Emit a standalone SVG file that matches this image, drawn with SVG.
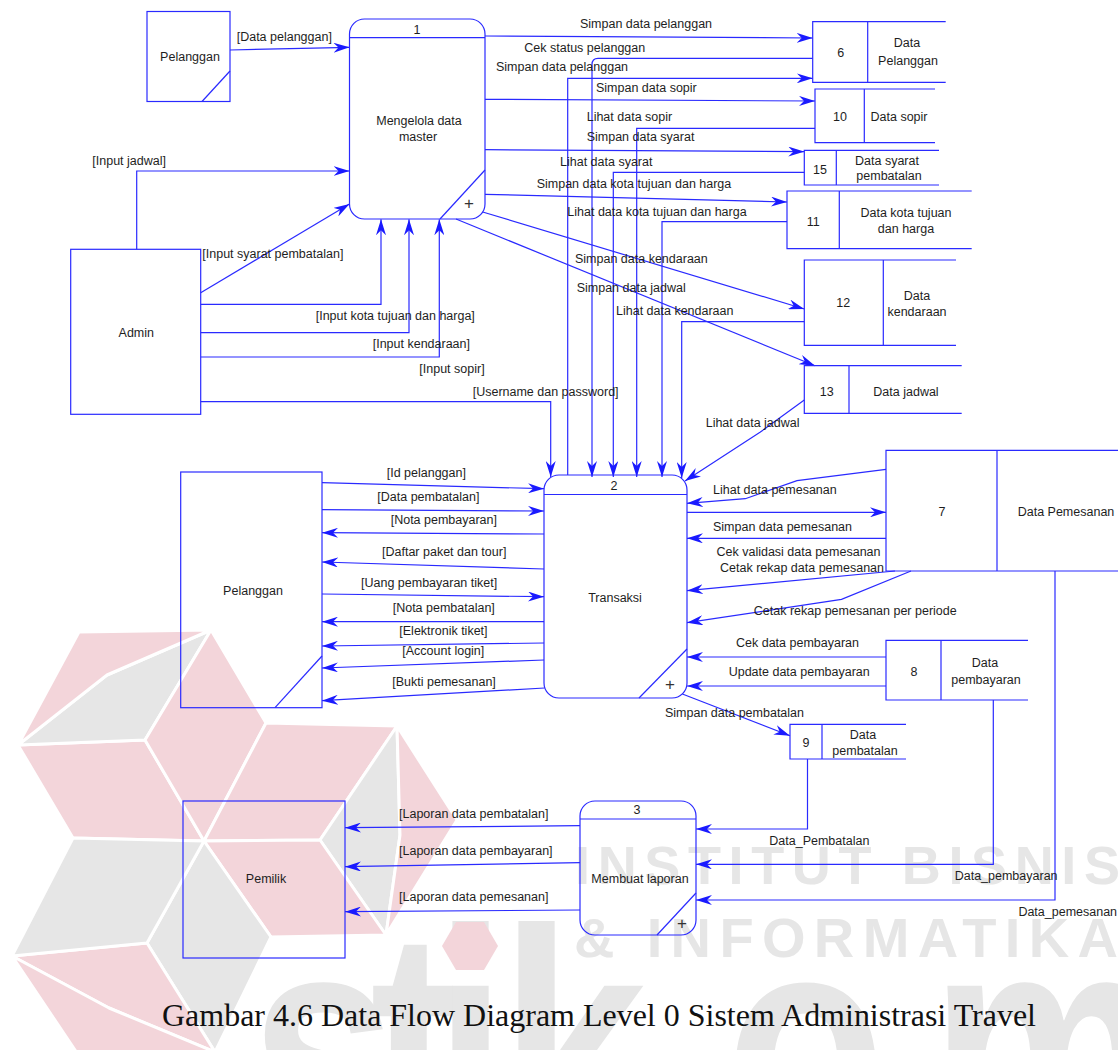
<svg xmlns="http://www.w3.org/2000/svg" width="1118" height="1050" viewBox="0 0 1118 1050">
  <defs>
    <marker id="ah" viewBox="0 0 16 10" refX="16" refY="5" markerWidth="16" markerHeight="10" orient="auto" markerUnits="userSpaceOnUse">
      <path d="M0,0 L16,5 L0,10 L5,5 Z" fill="#1a1aff"/>
    </marker>
    <style>
      .ln { fill: none; stroke: #2a2aff; stroke-width: 1.2; }
      .ar { marker-end: url(#ah); }
      .bx { fill: none; stroke: #2a2aff; stroke-width: 1.2; }
      .t { font-family: "Liberation Sans", Arial, sans-serif; font-size: 12.5px; fill: #1e1e1e; }
      .c { text-anchor: middle; }
      .plus { font-family: "Liberation Sans", Arial, sans-serif; font-size: 17px; fill: #333; text-anchor: middle; }
      .pk { fill: #f3d5da; stroke: #fff; stroke-width: 3; stroke-linejoin: round; }
      .gy { fill: #e6e6e6; stroke: #fff; stroke-width: 3; stroke-linejoin: round; }
      .wm { font-family: "Liberation Sans", Arial, sans-serif; font-weight: bold; fill: #e6e6e6; }
      .cap { font-family: "Liberation Serif", "Times New Roman", serif; font-size: 31px; fill: #111; }
    </style>
  </defs>

  <rect width="1118" height="1050" fill="#fff"/>

  <!-- background watermark: star emblem and wordmark -->
  <g id="watermark">
    <polygon class="pk" points="204,841 73,838 18,745 145,740"/>
    <polygon class="gy" points="18,745 107,675 211,630 145,740"/>
    <polygon class="pk" points="18,745 79,632 211,630 107,675"/>
    <polygon class="pk" points="211,630 266,723 204,841 145,740"/>
    <polygon class="pk" points="204,841 266,723 397,726 320,840"/>
    <polygon class="gy" points="397,726 400,835 386,935 320,840"/>
    <polygon class="pk" points="397,726 457,820 386,935 400,835"/>
    <polygon class="pk" points="386,935 271,937 204,841 320,840"/>
    <polygon class="gy" points="204,841 271,937 215,1052 147,943"/>
    <polygon class="pk" points="215,1052 109,1008 12,956 147,943"/>
    <polygon class="pk" points="215,1052 83,1062 12,956 109,1008"/>
    <polygon class="gy" points="12,956 73,838 204,841 147,943"/>
    <text class="wm" x="575" y="884" font-size="54" textLength="545" lengthAdjust="spacing">INSTITUT BISNIS</text>
    <text class="wm" x="574" y="957" font-size="56" textLength="544" lengthAdjust="spacing">&amp; INFORMATIKA</text>
    <text class="wm" transform="scale(0.8,1)" x="312.5 462.5 542.5 625 906.25 1162.5" y="1160" font-size="330">stikom</text>
    <polygon points="442,946 456,922 484,922 498,946 484,970 456,970" fill="#f3d5da"/>
  </g>

  <!-- data flows -->
  <g id="connectors">
    <path class="ln ar" d="M230,50 L349.5,47.3"/>
    <path class="ln ar" d="M136.7,249.3 V171 H349.5"/>
    <path class="ln ar" d="M200.7,292.7 L349.5,204"/>
    <path class="ln ar" d="M200.7,304.3 H381 V219.3"/>
    <path class="ln ar" d="M200.7,332.7 H409 V219.3"/>
    <path class="ln ar" d="M200.7,357 H439.3 V219.3"/>
    <path class="ln ar" d="M200.7,401.7 H550.7 V477"/>

    <path class="ln ar" d="M485,36 L812.7,38"/>
    <path class="ln ar" d="M812.7,58.3 H598 Q592,58.3 592,64.5 V477"/>
    <path class="ln ar" d="M567.7,475 V78.3 H812.7"/>
    <path class="ln ar" d="M485,99.3 L815,101"/>
    <path class="ln ar" d="M815,128.3 H636.7 V477"/>
    <path class="ln ar" d="M485,149.7 L804.3,151.7"/>
    <path class="ln ar" d="M804.3,172.3 H613.3 V477"/>
    <path class="ln ar" d="M485,194.3 L787,202"/>
    <path class="ln ar" d="M787,221.7 H662 V477"/>
    <path class="ln ar" d="M482.7,212 L804.3,309"/>
    <path class="ln ar" d="M456,219 L815,365.7"/>
    <path class="ln ar" d="M804.3,321.7 H681.7 V478"/>
    <path class="ln ar" d="M804.3,400 L760,432.3 L685,481"/>

    <path class="ln ar" d="M886,469.3 L797,480.7 L745.3,498.7 L687,503.3"/>
    <path class="ln ar" d="M687,512.3 H886"/>
    <path class="ln ar" d="M886,538.3 H687"/>
    <path class="ln ar" d="M895,571 L687,590.7"/>
    <path class="ln ar" d="M911,571 L841.5,599.3 L687,622.7"/>
    <path class="ln ar" d="M886,657 H687"/>
    <path class="ln ar" d="M886,686 H687"/>
    <path class="ln ar" d="M682.4,694 L790,735.7"/>

    <path class="ln ar" d="M322,482.7 L544,488.7"/>
    <path class="ln ar" d="M322,509.7 L544,511"/>
    <path class="ln ar" d="M544,534 L322,532.7"/>
    <path class="ln ar" d="M544,569 L322,562"/>
    <path class="ln ar" d="M322,594 L544,596.7"/>
    <path class="ln ar" d="M544,621.7 H322"/>
    <path class="ln ar" d="M544,643 L322,646"/>
    <path class="ln ar" d="M544,660 L322,668"/>
    <path class="ln ar" d="M544.5,688 L322,700.7"/>

    <path class="ln ar" d="M807.5,759 V829 H696"/>
    <path class="ln ar" d="M993.3,700 V864.3 H696"/>
    <path class="ln ar" d="M1055,571 V900 H696"/>

    <path class="ln ar" d="M580,825.7 L345,827.7"/>
    <path class="ln ar" d="M580,862.7 L345,866.7"/>
    <path class="ln ar" d="M580,910 L345,911.7"/>
  </g>

  <!-- flow labels -->
  <g id="flow-labels" class="t">
    <text x="236.7" y="41.3">[Data pelanggan]</text>
    <text x="92.3" y="164.7">[Input jadwal]</text>
    <text x="202.3" y="258">[Input syarat pembatalan]</text>
    <text x="315.7" y="319.7">[Input kota tujuan dan harga]</text>
    <text x="372.7" y="347.7">[Input kendaraan]</text>
    <text x="419.3" y="373">[Input sopir]</text>
    <text x="472.7" y="395.7">[Username dan password]</text>

    <text x="580" y="28">Simpan data pelanggan</text>
    <text x="524.3" y="51.7">Cek status pelanggan</text>
    <text x="496" y="70.7">Simpan data pelanggan</text>
    <text x="596" y="91.7">Simpan data sopir</text>
    <text x="586.7" y="121.3">Lihat data sopir</text>
    <text x="586.7" y="140.7">Simpan data syarat</text>
    <text x="560" y="165.7">Lihat data syarat</text>
    <text x="536.7" y="188">Simpan data kota tujuan dan harga</text>
    <text x="567.3" y="215.7">Lihat data kota tujuan dan harga</text>
    <text x="575" y="263">Simpan data kendaraan</text>
    <text x="576.7" y="292.3">Simpan data jadwal</text>
    <text x="616" y="314.7">Lihat data kendaraan</text>
    <text x="705.7" y="426.7">Lihat data jadwal</text>

    <text x="386.7" y="477.3">[Id pelanggan]</text>
    <text x="377.3" y="500.7">[Data pembatalan]</text>
    <text x="390.7" y="524">[Nota pembayaran]</text>
    <text x="382" y="555.7">[Daftar paket dan tour]</text>
    <text x="361" y="587.3">[Uang pembayaran tiket]</text>
    <text x="392.7" y="612.3">[Nota pembatalan]</text>
    <text x="399.3" y="635">[Elektronik tiket]</text>
    <text x="402.3" y="655">[Account login]</text>
    <text x="392.3" y="685.7">[Bukti pemesanan]</text>

    <text x="713" y="494">Lihat data pemesanan</text>
    <text x="713" y="530.7">Simpan data pemesanan</text>
    <text x="716.5" y="555.7">Cek validasi data pemesanan</text>
    <text x="720" y="571.7">Cetak rekap data pemesanan</text>
    <text x="753.8" y="614.7">Cetak rekap pemesanan per periode</text>
    <text x="736" y="647.3">Cek data pembayaran</text>
    <text x="728.7" y="675.7">Update data pembayaran</text>
    <text x="665" y="716.7">Simpan data pembatalan</text>

    <text x="769.3" y="844.7">Data_Pembatalan</text>
    <text x="954.7" y="880">Data_pembayaran</text>
    <text x="1018.4" y="915.7">Data_pemesanan</text>
    <text x="399" y="818">[Laporan data pembatalan]</text>
    <text x="399" y="854.7">[Laporan data pembayaran]</text>
    <text x="399" y="900.7">[Laporan data pemesanan]</text>
  </g>

  <!-- external entities -->
  <g id="ext-pelanggan-top">
    <rect class="bx" x="147" y="11.5" width="83" height="90"/>
    <line class="ln" x1="202" y1="101.5" x2="230" y2="71"/>
    <text class="t c" x="190" y="61">Pelanggan</text>
  </g>
  <g id="ext-admin">
    <rect class="bx" x="70.7" y="249.3" width="130" height="165"/>
    <text class="t c" x="136.3" y="337">Admin</text>
  </g>
  <g id="ext-pelanggan">
    <rect class="bx" x="180.7" y="472" width="141.3" height="235.7"/>
    <line class="ln" x1="275" y1="707.7" x2="322" y2="656"/>
    <text class="t c" x="253" y="595">Pelanggan</text>
  </g>
  <g id="ext-pemilik">
    <rect class="bx" x="183" y="801" width="162" height="157"/>
    <text class="t c" x="266" y="883">Pemilik</text>
  </g>

  <!-- processes -->
  <g id="proc-1">
    <rect class="bx" x="349.5" y="19" width="135.5" height="200" rx="15"/>
    <line class="ln" x1="349.5" y1="37.7" x2="485" y2="37.7"/>
    <line class="ln" x1="440" y1="219" x2="485" y2="170"/>
    <text class="t c" x="417" y="33.5">1</text>
    <text class="t c" x="419" y="124.7">Mengelola data</text>
    <text class="t c" x="418" y="141.3">master</text>
    <text class="plus" x="469" y="209">+</text>
  </g>
  <g id="proc-2">
    <rect class="bx" x="544" y="475" width="143" height="223" rx="15"/>
    <line class="ln" x1="544" y1="494.5" x2="687" y2="494.5"/>
    <line class="ln" x1="639" y1="698" x2="687" y2="649"/>
    <text class="t c" x="614" y="490">2</text>
    <text class="t c" x="615" y="601.7">Transaksi</text>
    <text class="plus" x="670" y="690">+</text>
  </g>
  <g id="proc-3">
    <rect class="bx" x="580" y="801" width="116" height="134" rx="15"/>
    <line class="ln" x1="580" y1="819" x2="696" y2="819"/>
    <line class="ln" x1="657" y1="935" x2="696" y2="893"/>
    <text class="t c" x="637" y="814">3</text>
    <text class="t c" x="640" y="883">Membuat laporan</text>
    <text class="plus" x="682" y="929">+</text>
  </g>

  <!-- data stores -->
  <g id="store-6">
    <path class="bx" d="M945.7,21.7 H812.7 V82.3 H945.7 M867.7,21.7 V82.3"/>
    <text class="t c" x="840.7" y="56.7">6</text>
    <text class="t c" x="907" y="47.3">Data</text>
    <text class="t c" x="908" y="65">Pelanggan</text>
  </g>
  <g id="store-10">
    <path class="bx" d="M935,89 H815 V142.7 H935 M864.3,89 V142.7"/>
    <text class="t c" x="840" y="120.7">10</text>
    <text class="t c" x="899" y="120.7">Data sopir</text>
  </g>
  <g id="store-15">
    <path class="bx" d="M939,150.3 H804.3 V185 H939 M836.3,150.3 V185"/>
    <text class="t c" x="820" y="174">15</text>
    <text class="t c" x="887" y="165">Data syarat</text>
    <text class="t c" x="889" y="180.3">pembatalan</text>
  </g>
  <g id="store-11">
    <path class="bx" d="M971.7,191 H787 V248.7 H971.7 M839.3,191 V248.7"/>
    <text class="t c" x="813.3" y="225.7">11</text>
    <text class="t c" x="906" y="216.7">Data kota tujuan</text>
    <text class="t c" x="906" y="232.7">dan harga</text>
  </g>
  <g id="store-12">
    <path class="bx" d="M956,260 H804.3 V345.3 H956 M883.3,260 V345.3"/>
    <text class="t c" x="843.3" y="306.7">12</text>
    <text class="t c" x="917" y="299.7">Data</text>
    <text class="t c" x="917" y="315.7">kendaraan</text>
  </g>
  <g id="store-13">
    <path class="bx" d="M961.7,365.7 H804.3 V413.3 H961.7 M849,365.7 V413.3"/>
    <text class="t c" x="826.7" y="395.7">13</text>
    <text class="t c" x="906" y="395.7">Data jadwal</text>
  </g>
  <g id="store-7">
    <path class="bx" d="M1118,450.3 H886 V571 H1118 M997,450.3 V571"/>
    <text class="t c" x="942" y="516.3">7</text>
    <text class="t c" x="1066" y="516.3">Data Pemesanan</text>
  </g>
  <g id="store-8">
    <path class="bx" d="M1028,640.3 H886 V700 H1028 M941,640.3 V700"/>
    <text class="t c" x="914" y="675.7">8</text>
    <text class="t c" x="985" y="666.7">Data</text>
    <text class="t c" x="986" y="684">pembayaran</text>
  </g>
  <g id="store-9">
    <path class="bx" d="M906,724.3 H790 V759 H906 M822,724.3 V759"/>
    <text class="t c" x="806" y="747.3">9</text>
    <text class="t c" x="863" y="739">Data</text>
    <text class="t c" x="865" y="754.7">pembatalan</text>
  </g>

  <text class="cap" x="162" y="1026" textLength="874" lengthAdjust="spacingAndGlyphs">Gambar 4.6 Data Flow Diagram Level 0 Sistem Administrasi Travel</text>
</svg>
